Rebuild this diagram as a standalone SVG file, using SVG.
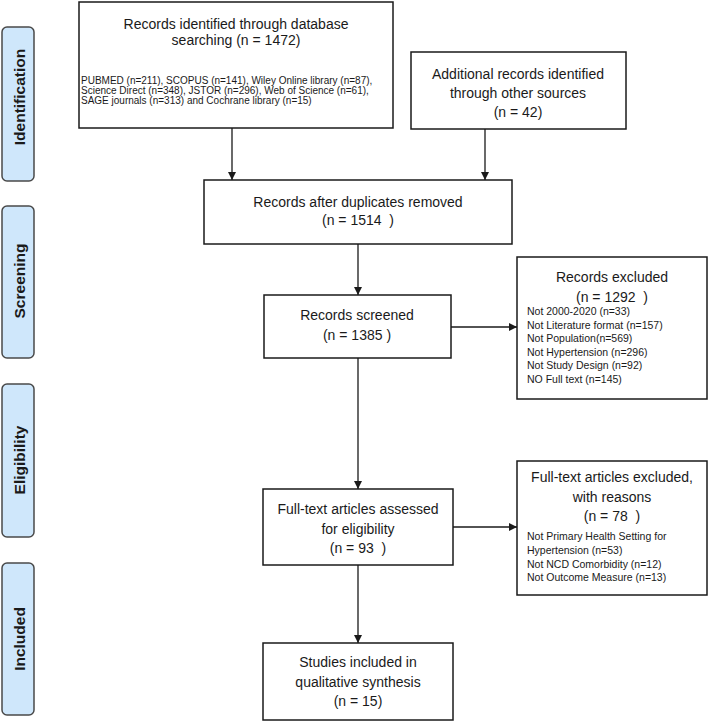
<svg xmlns="http://www.w3.org/2000/svg" width="709" height="722" viewBox="0 0 709 722">
<style>
.box{fill:#fff;stroke:#1a1a1a;stroke-width:1.5}
.lbl{fill:#cfe7fb;stroke:#4a4a4a;stroke-width:1.5}
.t{font-family:"Liberation Sans",Arial,sans-serif;font-size:14px;fill:#1a1a1a;white-space:pre}
.c{text-anchor:middle}
.s{font-family:"Liberation Sans",Arial,sans-serif;font-size:10px;fill:#1a1a1a}
.s2{font-family:"Liberation Sans",Arial,sans-serif;font-size:10.5px;fill:#1a1a1a}
.lt{font-family:"Liberation Sans",Arial,sans-serif;font-size:15.5px;font-weight:bold;fill:#1a1a1a;text-anchor:middle}
.ln{fill:none;stroke:#1a1a1a;stroke-width:1.3}
</style>
<defs>
<marker id="ah" viewBox="0 0 10 10" refX="10" refY="5" markerWidth="8" markerHeight="8" markerUnits="userSpaceOnUse" orient="auto">
<path d="M0,0 L10,5 L0,10 Z" fill="#1a1a1a"/>
</marker>
</defs>
<rect width="709" height="722" fill="#fff"/>

<g id="label-identification">
<rect class="lbl" x="2" y="27" width="32" height="154" rx="5"/>
<text class="lt" transform="translate(25,97) rotate(-90)">Identification</text>
</g>
<g id="label-screening">
<rect class="lbl" x="2" y="206" width="32" height="152" rx="5"/>
<text class="lt" transform="translate(25,281) rotate(-90)">Screening</text>
</g>
<g id="label-eligibility">
<rect class="lbl" x="2" y="384" width="32" height="153" rx="5"/>
<text class="lt" transform="translate(25,460) rotate(-90)">Eligibility</text>
</g>
<g id="label-included">
<rect class="lbl" x="2" y="563" width="32" height="152" rx="5"/>
<text class="lt" transform="translate(25,639) rotate(-90)">Included</text>
</g>

<g id="db-search">
<rect class="box" x="79" y="2" width="314" height="126"/>
<text class="t c" x="236" y="29">Records identified through database</text>
<text class="t c" x="236" y="45">searching (n = 1472)</text>
<text class="s" x="81" y="84">PUBMED (n=211), SCOPUS (n=141), Wiley Online library (n=87),</text>
<text class="s" x="81" y="94">Science Direct (n=348), JSTOR (n=296), Web of Science (n=61),</text>
<text class="s" x="81" y="104">SAGE journals (n=313) and Cochrane library (n=15)</text>
</g>

<g id="other-sources">
<rect class="box" x="411" y="52" width="215" height="77"/>
<text class="t c" x="518" y="79">Additional records identified</text>
<text class="t c" x="518" y="98">through other sources</text>
<text class="t c" x="518" y="117">(n = 42)</text>
</g>

<g id="duplicates-removed">
<rect class="box" x="204" y="180" width="308" height="64"/>
<text class="t c" x="358" y="207">Records after duplicates removed</text>
<text class="t c" x="358" y="225" xml:space="preserve">(n = 1514  )</text>
</g>

<g id="screened">
<rect class="box" x="264" y="295" width="187" height="63"/>
<text class="t c" x="357" y="320">Records screened</text>
<text class="t c" x="357" y="340">(n = 1385 )</text>
</g>

<g id="excluded">
<rect class="box" x="517" y="257" width="190" height="142"/>
<text class="t c" x="612" y="282">Records excluded</text>
<text class="t c" x="612" y="302" xml:space="preserve">(n = 1292  )</text>
<text class="s2" x="527" y="315">Not 2000-2020 (n=33)</text>
<text class="s2" x="527" y="328.5">Not Literature format (n=157)</text>
<text class="s2" x="527" y="342">Not Population(n=569)</text>
<text class="s2" x="527" y="355.5">Not Hypertension (n=296)</text>
<text class="s2" x="527" y="369">Not Study Design (n=92)</text>
<text class="s2" x="527" y="382.5">NO Full text (n=145)</text>
</g>

<g id="fulltext-assessed">
<rect class="box" x="263" y="489" width="190" height="76"/>
<text class="t c" x="358" y="514">Full-text articles assessed</text>
<text class="t c" x="358" y="534">for eligibility</text>
<text class="t c" x="358" y="553" xml:space="preserve">(n = 93  )</text>
</g>

<g id="fulltext-excluded">
<rect class="box" x="517" y="461" width="190" height="134"/>
<text class="t c" x="612" y="482">Full-text articles excluded,</text>
<text class="t c" x="612" y="502">with reasons</text>
<text class="t c" x="612" y="521" xml:space="preserve">(n = 78  )</text>
<text class="s2" x="527" y="540">Not Primary Health Setting for</text>
<text class="s2" x="527" y="554">Hypertension (n=53)</text>
<text class="s2" x="527" y="567.5">Not NCD Comorbidity (n=12)</text>
<text class="s2" x="527" y="581">Not Outcome Measure (n=13)</text>
</g>

<g id="included">
<rect class="box" x="263" y="643" width="190" height="77"/>
<text class="t c" x="358" y="667">Studies included in</text>
<text class="t c" x="358" y="687">qualitative synthesis</text>
<text class="t c" x="358" y="706">(n = 15)</text>
</g>

<g id="connectors">
<line class="ln" x1="232" y1="128" x2="232" y2="180" marker-end="url(#ah)"/>
<line class="ln" x1="485" y1="129" x2="485" y2="180" marker-end="url(#ah)"/>
<line class="ln" x1="358" y1="244" x2="358" y2="295" marker-end="url(#ah)"/>
<line class="ln" x1="451" y1="327" x2="517" y2="327" marker-end="url(#ah)"/>
<line class="ln" x1="358" y1="358" x2="358" y2="489" marker-end="url(#ah)"/>
<line class="ln" x1="453" y1="527" x2="517" y2="527" marker-end="url(#ah)"/>
<line class="ln" x1="358" y1="565" x2="358" y2="643" marker-end="url(#ah)"/>
</g>
</svg>
